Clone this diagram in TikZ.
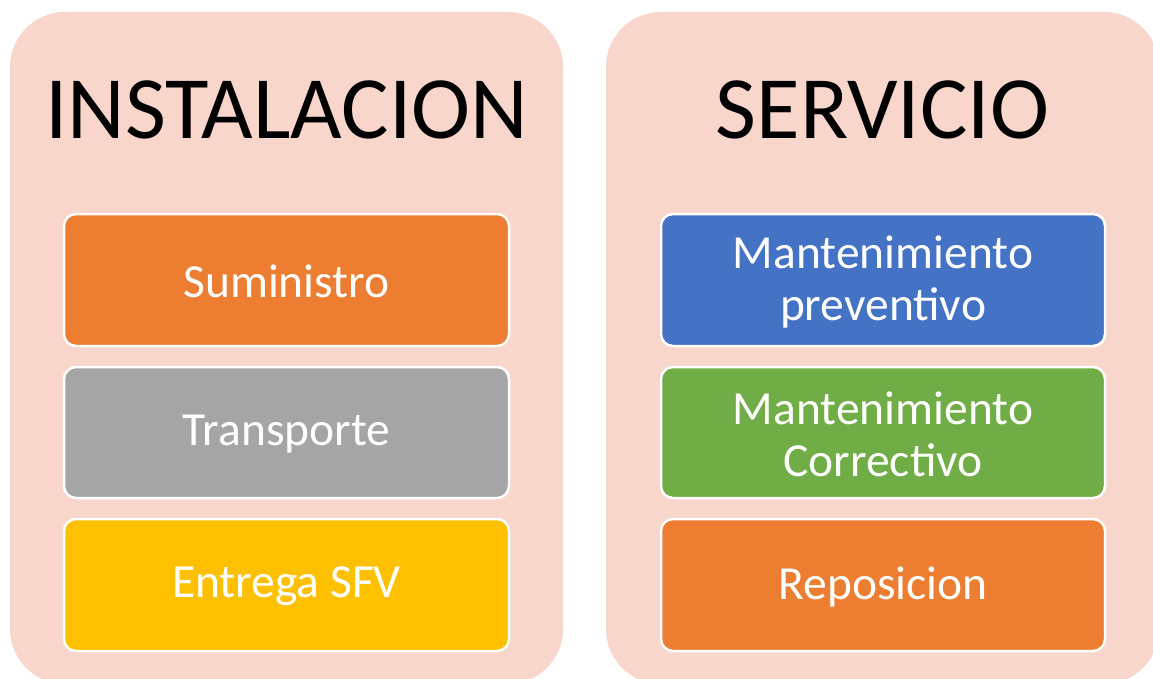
\documentclass[tikz,border=0pt]{standalone}
\usepackage{fontspec}
\setmainfont{Carlito}
\definecolor{panelc}{HTML}{F8D6CC}
\definecolor{orangec}{HTML}{ED7D31}
\definecolor{greyc}{HTML}{A5A5A5}
\definecolor{yellowc}{HTML}{FFC000}
\definecolor{bluec}{HTML}{4472C4}
\definecolor{greenc}{HTML}{70AD47}
\begin{document}
\begin{tikzpicture}[x=1pt,y=-1pt,
  panel/.style={fill=panelc,draw=none,rounded corners=55pt},
  itembox/.style={draw=white,line width=2.5pt,rounded corners=12pt},
  title/.style={font=\fontsize{89}{95}\selectfont,text=black,anchor=base},
  itemtext/.style={font=\fontsize{47.5}{52}\selectfont,text=white,align=center,inner sep=0pt}]
\useasboundingbox (0,0) rectangle (1153,679);
\clip (0,0) rectangle (1153,679);
\fill[white] (0,0) rectangle (1153,679);
% panels
\path[panel] (10,12) rectangle (563,684);
\path[panel] (606,12) rectangle (1159,684);
\node[title] (t1) at (286.5,139) {INSTALACION};
\node[title] (t2) at (882.5,139) {SERVICIO};
% left boxes
\path[itembox,fill=orangec] (64,214) rectangle (509,346);
\path[itembox,fill=greyc] (64,367) rectangle (509,498);
\path[itembox,fill=yellowc] (64,519) rectangle (509,651);
\node[itemtext] (a1) at (286.5,281.5) {Suministro};
\node[itemtext] (a2) at (286.5,434) {Transporte};
\node[itemtext] (a3) at (286.5,586.5) {Entrega SFV};
% right boxes
\path[itembox,fill=bluec] (661,214) rectangle (1105,346);
\path[itembox,fill=greenc] (661,367) rectangle (1105,498);
\path[itembox,fill=orangec] (661,519) rectangle (1105,651);
\node[itemtext] (b1) at (883,281.5) {Mantenimiento\\preventivo};
\node[itemtext] (b2) at (883,434) {Mantenimiento\\Correctivo};
\node[itemtext] (b3) at (883,586.5) {Reposicion};
\end{tikzpicture}
\end{document}
